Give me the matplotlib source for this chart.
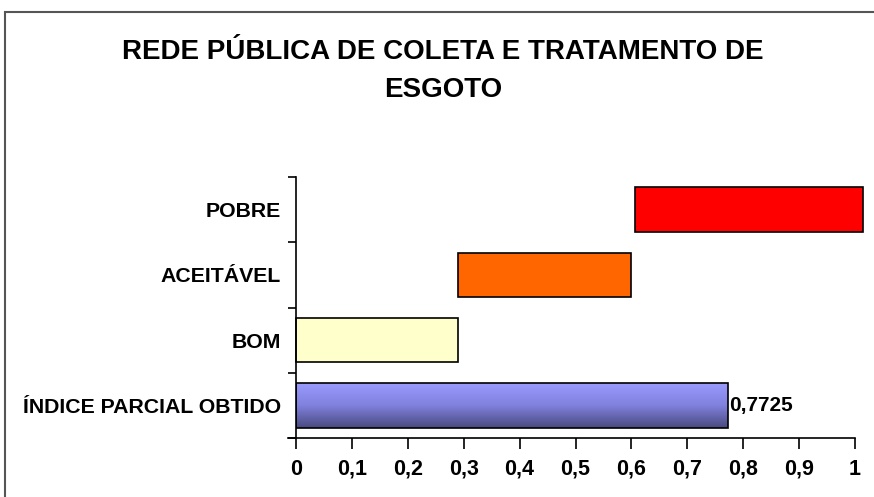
import matplotlib
matplotlib.use("Agg")
import matplotlib.pyplot as plt
import numpy as np
from matplotlib.patches import Rectangle
from matplotlib.colors import LinearSegmentedColormap
from matplotlib import font_manager

categories = ["ÍNDICE PARCIAL OBTIDO", "BOM", "ACEITÁVEL", "POBRE"]
starts = [0.0, 0.0, 0.29, 0.607]
ends = [0.7725, 0.29, 0.60, 1.015]
colors = [None, "#ffffcc", "#ff6600", "#ff0000"]
xticks = [0, 0.1, 0.2, 0.3, 0.4, 0.5, 0.6, 0.7, 0.8, 0.9, 1.0]
value_label = "0,7725"
title = "REDE PÚBLICA DE COLETA E TRATAMENTO DE\nESGOTO"

names = {f.name for f in font_manager.fontManager.ttflist}
fam = "Liberation Sans" if "Liberation Sans" in names else "DejaVu Sans"
narrow = "Liberation Sans Narrow" if "Liberation Sans Narrow" in names else fam
plt.rcParams["font.family"] = [fam, "DejaVu Sans"]

fig = plt.figure(figsize=(8.74, 4.97), dpi=100)
fig.patch.set_facecolor("white")
# outer frame
fig.add_artist(Rectangle((5/874, -0.01), 1.0, 1 - 12/497 + 0.01, transform=fig.transFigure,
                         fill=False, edgecolor="#555555", linewidth=1.5))

ax = fig.add_axes([296/874, 1 - 438/497, 559/874, 261/497])
ypos = np.arange(len(categories))
h = 0.68
cmap = LinearSegmentedColormap.from_list("g", ["#9a9aff", "#8080dd", "#4a4a80"])
for i, (s, e, c) in enumerate(zip(starts, ends, colors)):
    if c is None:
        grad = np.linspace(0, 1, 100).reshape(-1, 1)
        ax.imshow(grad, extent=(s, e, i - h/2, i + h/2), aspect="auto", cmap=cmap,
                  origin="upper", zorder=2)
        ax.add_patch(Rectangle((s, i - h/2), e - s, h, fill=False, edgecolor="black",
                               linewidth=1.2, zorder=3))
        ax.text(e + 0.003, i, value_label, va="center", ha="left", fontsize=15,
                fontweight="bold")
    else:
        ax.barh(i, e - s, left=s, height=h, color=c, edgecolor="black", linewidth=1.2,
                zorder=2, clip_on=False)

ax.set_xlim(0, 1)
ax.set_ylim(-0.5, len(categories) - 0.5)
ax.set_xticks(xticks)
ax.set_xticklabels([("%g" % v).replace(".", ",") for v in xticks], fontsize=15.5,
                   fontweight="bold")
ax.set_yticks(ypos)
ax.set_yticklabels(categories, fontsize=15.3, fontweight="bold")
ax.set_yticks(np.arange(-0.5, len(categories)), minor=True)
ax.tick_params(axis="y", which="major", length=0, pad=11)
ax.tick_params(axis="y", which="minor", length=6, width=1.2, direction="out")
ax.tick_params(axis="x", length=8, width=1.2, direction="out", pad=7)
for sp in ["top", "right"]:
    ax.spines[sp].set_visible(False)
ax.spines["left"].set_linewidth(1.2)
ax.spines["bottom"].set_linewidth(1.2)
ax.spines["bottom"].set_bounds(-0.015, 1)
ax.spines["bottom"].set_clip_on(False)
ax.set_facecolor("white")

fig.text(443/874, 1 - 71/497, title, ha="center", va="center", fontsize=20,
         fontweight="bold", linespacing=1.6, family=[narrow, "DejaVu Sans"])

fig.savefig("out.png", dpi=100)
